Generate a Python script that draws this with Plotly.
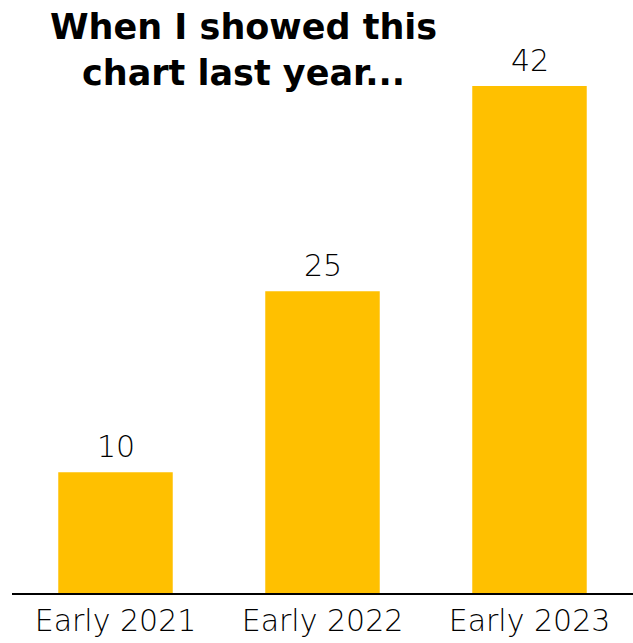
import plotly.graph_objects as go

categories = ["Early 2021", "Early 2022", "Early 2023"]
values = [10, 25, 42]
title_text = "When I showed this<br>chart last year..."

fig = go.Figure(go.Bar(
    x=categories, y=values,
    marker=dict(color="#FFC000", line=dict(width=0)),
    cliponaxis=False,
))

annots = [dict(
    x=c, y=v, xref="x", yref="y", text=str(v), showarrow=False,
    xanchor="center", yanchor="bottom", yshift=6,
    font=dict(family="DejaVu Sans", size=30, color="black", weight=200),
) for c, v in zip(categories, values)]

annots.append(dict(
    text=title_text, xref="paper", yref="paper",
    x=(244 - 12) / 623, y=1 + 86 / 507, yshift=-5, xanchor="center", yanchor="top",
    showarrow=False, align="center",
    font=dict(family="DejaVu Sans", size=35, color="black", weight="bold"),
))

fig.update_layout(
    width=633, height=643,
    margin=dict(l=12, r=0, t=86, b=50),
    paper_bgcolor="white", plot_bgcolor="white",
    bargap=0.447,
    showlegend=False,
    xaxis=dict(
        showline=True, linecolor="black", linewidth=2,
        ticks="", showgrid=False,
        tickfont=dict(family="DejaVu Sans", size=30, color="black", weight=200),
    ),
    yaxis=dict(range=[0, 42], visible=False, showgrid=False),
    annotations=annots,
)

fig.write_html("out.html")
